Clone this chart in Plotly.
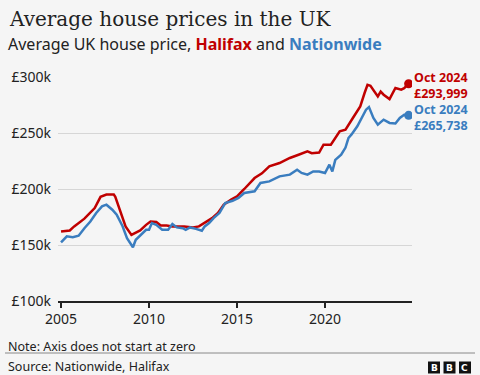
import plotly.graph_objects as go

halifax_dates = ["2005-01", "2005-07", "2005-10", "2006-05", "2006-12", "2007-04", "2007-08",
                 "2008-01", "2008-02", "2008-06", "2008-09", "2009-01", "2009-04", "2009-07",
                 "2009-11", "2010-02", "2010-06", "2010-09", "2011-01", "2011-05", "2012-01",
                 "2012-07", "2012-11", "2013-03", "2013-08", "2013-12", "2014-04", "2014-09",
                 "2015-01", "2015-06", "2016-01", "2016-06", "2016-11", "2017-06", "2018-01",
                 "2018-07", "2019-01", "2019-04", "2019-09", "2019-12", "2020-05", "2020-11",
                 "2021-03", "2021-08", "2022-01", "2022-04", "2022-06", "2022-08", "2022-10",
                 "2023-01", "2023-03", "2023-05", "2023-09", "2024-01", "2024-05", "2024-07",
                 "2024-10"]
halifax_values = [162, 163, 166.6, 173.5, 183, 193, 195,
                  195, 193, 179, 166.6, 159, 161, 163,
                  168, 171, 170.5, 167.4, 167.4, 166.6, 166.6,
                  165.7, 166.6, 169.6, 174, 178.6, 186, 190.5,
                  193.4, 200, 209.8, 214, 220.2, 223.2, 227.7,
                  230.6, 233.6, 232, 232.5, 239.5, 239.5, 251.4,
                  253, 263.4, 273.8, 285.7, 293, 292.2, 288.7,
                  282.7, 287, 284.2, 280.3, 290.2, 288.7, 290,
                  293.999]

nationwide_dates = ["2005-01", "2005-05", "2005-09", "2006-01", "2006-05", "2006-09", "2007-01",
                    "2007-05", "2007-08", "2007-12", "2008-03", "2008-07", "2008-10", "2009-02",
                    "2009-04", "2009-07", "2009-11", "2010-01", "2010-03", "2010-06", "2010-10",
                    "2011-02", "2011-05", "2011-08", "2011-12", "2012-02", "2012-05", "2012-09",
                    "2013-01", "2013-03", "2013-06", "2013-09", "2014-01", "2014-05", "2014-10",
                    "2015-02", "2015-06", "2016-01", "2016-05", "2016-11", "2017-06", "2018-01",
                    "2018-06", "2018-09", "2019-01", "2019-05", "2019-09", "2020-01", "2020-04",
                    "2020-06", "2020-08", "2020-12", "2021-03", "2021-05", "2021-07", "2021-11",
                    "2022-02", "2022-05", "2022-07", "2022-10", "2023-01", "2023-05", "2023-09",
                    "2024-01", "2024-04", "2024-07", "2024-10"]
nationwide_values = [152.3, 157.7, 157, 158.3, 165, 171, 178.6,
                     184.5, 186, 181.5, 177, 166.7, 156, 148,
                     154.7, 158.5, 163.6, 163.6, 169.6, 168, 163.6,
                     163.6, 168.7, 165.7, 165, 163.6, 165.7, 164.4,
                     162.7, 166.6, 169.6, 174, 178.6, 187.5, 189.5,
                     192, 196.4, 198, 205.4, 206.8, 211.3, 212.8,
                     217.2, 214.3, 212.8, 215.7, 215.7, 214.3, 221.7,
                     215.7, 226, 230.6, 237, 245.5, 248.5, 256,
                     263.4, 270.8, 273.2, 263.4, 257.4, 261.9, 259,
                     258.5, 263.4, 266.3, 265.738]

y_ticks = [100, 150, 200, 250, 300]
y_labels = ["£100k", "£150k", "£200k", "£250k", "£300k"]
x_ticks = ["2005-01-01", "2010-01-01", "2015-01-01", "2020-01-01"]
x_labels = ["2005", "2010", "2015", "2020"]
end_month = "Oct 2024"
halifax_end_text = "£293,999"
nationwide_end_text = "£265,738"

RED = "#c00000"
BLUE = "#3a7dbf"
BG = "#f5f5f5"
TXT = "#222222"
SANS = "Noto Sans"

W, H = 480, 375
L, R, T, B = 58, 412, 77, 301


def px(x):
    return (x - L) / (R - L)


def py(y):
    return (B - y) / (B - T)


fig = go.Figure()
fig.add_trace(go.Scatter(x=halifax_dates, y=[v * 1000 for v in halifax_values], mode="lines",
                         line=dict(color=RED, width=2.5), hoverinfo="skip"))
fig.add_trace(go.Scatter(x=nationwide_dates, y=[v * 1000 for v in nationwide_values], mode="lines",
                         line=dict(color=BLUE, width=2.5), hoverinfo="skip"))
fig.add_trace(go.Scatter(x=[halifax_dates[-1]], y=[halifax_values[-1] * 1000], mode="markers",
                         marker=dict(color=RED, size=9), hoverinfo="skip"))
fig.add_trace(go.Scatter(x=[nationwide_dates[-1]], y=[nationwide_values[-1] * 1000], mode="markers",
                         marker=dict(color=BLUE, size=9), hoverinfo="skip"))

ann = []
ann.append(dict(x=px(7), y=py(19), xref="paper", yref="paper", xanchor="left", yanchor="middle",
                text="Average house prices in the UK", showarrow=False,
                font=dict(family="DejaVu Serif", size=20, color=TXT)))
ann.append(dict(x=px(6), y=py(44), xref="paper", yref="paper", xanchor="left", yanchor="middle",
                text=("Average UK house price, <b><span style='color:%s'>Halifax</span></b> and "
                      "<b><span style='color:%s'>Nationwide</span></b>") % (RED, BLUE),
                showarrow=False, font=dict(family=SANS, size=16, color=TXT)))

for dates, vals, txt, col in [(halifax_dates, halifax_values, halifax_end_text, RED),
                              (nationwide_dates, nationwide_values, nationwide_end_text, BLUE)]:
    for line_text, shift in [(end_month, 6), (txt, -10)]:
        ann.append(dict(x=dates[-1], y=vals[-1] * 1000, xref="x", yref="y",
                        xanchor="left", yanchor="middle", xshift=3, yshift=shift,
                        text="<b>%s</b>" % line_text, showarrow=False,
                        font=dict(family=SANS, size=12.5, color=col)))

ann.append(dict(x=px(6), y=py(346), xref="paper", yref="paper", xanchor="left", yanchor="middle",
                text="Note: Axis does not start at zero", showarrow=False,
                font=dict(family=SANS, size=12.5, color=TXT)))
ann.append(dict(x=px(6), y=py(366), xref="paper", yref="paper", xanchor="left", yanchor="middle",
                text="Source: Nationwide, Halifax", showarrow=False,
                font=dict(family=SANS, size=12.5, color=TXT)))

shapes = [dict(type="line", xref="paper", yref="paper", x0=px(5), x1=px(475), y0=py(353), y1=py(353),
               line=dict(color="#888888", width=1))]
for i, letter in enumerate(["B", "B", "C"]):
    x0 = 428 + i * 15.5
    shapes.append(dict(type="rect", xref="paper", yref="paper", x0=px(x0), x1=px(x0 + 12),
                       y0=py(361.5), y1=py(373.5), fillcolor="#111111", line=dict(width=0)))
    ann.append(dict(x=px(x0 + 6), y=py(367.5), xref="paper", yref="paper", xanchor="center",
                    yanchor="middle", text="<b>%s</b>" % letter, showarrow=False,
                    font=dict(family="DejaVu Sans", size=9, color="white")))

fig.update_layout(
    width=W, height=H,
    margin=dict(l=L, r=W - R, t=T, b=H - B, pad=0),
    paper_bgcolor=BG, plot_bgcolor=BG,
    showlegend=False,
    annotations=ann, shapes=shapes,
    xaxis=dict(type="date", range=["2004-10-30", "2024-12-10"], tickvals=x_ticks, ticktext=x_labels,
               showgrid=False, showline=True, linecolor=TXT, linewidth=1.5, ticks="outside",
               ticklen=5, tickcolor=TXT, tickwidth=1.5, zeroline=False,
               tickfont=dict(family=SANS, size=14, color=TXT), fixedrange=True),
    yaxis=dict(range=[100000, 300000], tickvals=[v * 1000 for v in y_ticks], ticktext=y_labels,
               showgrid=True, gridcolor="#d6d6d6", gridwidth=1, zeroline=False, showline=False,
               ticks="", ticklabelstandoff=6,
               tickfont=dict(family=SANS, size=14, color=TXT), fixedrange=True),
)

fig.write_html("out.html", config={"staticPlot": True},
               post_script="document.body.style.margin='0';document.body.style.background='%s';" % BG)
